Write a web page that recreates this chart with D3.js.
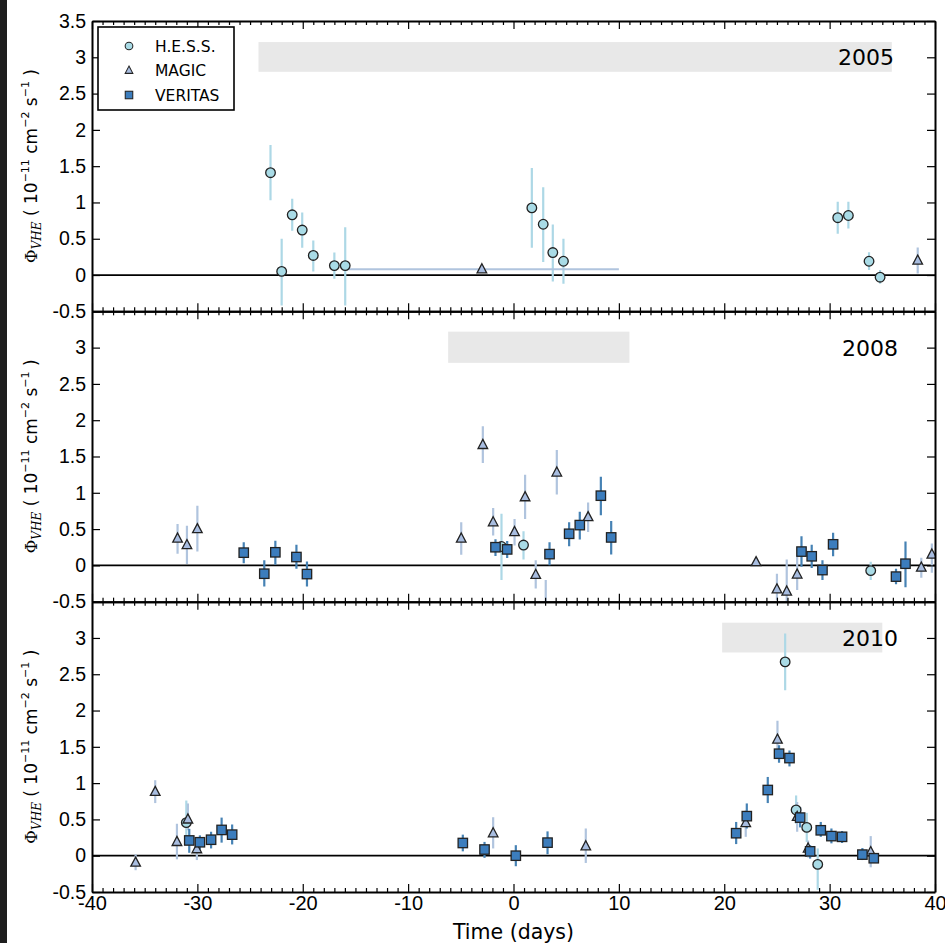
<!DOCTYPE html>
<html>
<head>
<meta charset="utf-8">
<script src="https://cdn.jsdelivr.net/npm/d3@7"></script>
<style>
  body { margin: 0; background: #fff; }
  svg { display: block; font-family: "DejaVu Sans", sans-serif; }
  .domain { stroke: #000; stroke-width: 2; }
  .tick line { stroke: #000; stroke-width: 1.2; }
</style>
</head>
<body>
<div id="chart"></div>
<script>
// data: [time (days), flux, err low, err high]  (flux in 1e-11 cm-2 s-1)
var years = ['2005', '2008', '2010'];

var hess2005 = [
  [-23.06, 1.41, 1.03, 1.79], [-22.0, 0.05, -0.42, 0.50], [-21.0, 0.83, 0.61, 1.05],
  [-20.05, 0.62, 0.375, 0.86], [-19.0, 0.27, 0.05, 0.475], [-17.0, 0.13, -0.05, 0.31],
  [-15.97, 0.13, -0.42, 0.66], [1.74, 0.925, 0.375, 1.475], [2.82, 0.70, 0.18, 1.21],
  [3.73, 0.31, -0.09, 0.695], [4.74, 0.19, -0.12, 0.50], [30.77, 0.79, 0.57, 1.01],
  [31.78, 0.82, 0.64, 1.01], [33.74, 0.19, 0.07, 0.315], [34.79, -0.03, -0.12, 0.07]
];
// last two fields: horizontal extent (time bin)
var magic2005 = [
  [-3.0, 0.08, 0.08, 0.08, -16.0, 10.0], [38.36, 0.20, 0.02, 0.38]
];
var veritas2005 = [];

var hess2008 = [
  [-1.14, 0.26, -0.20, 0.71], [0.95, 0.28, 0.08, 0.47], [33.9, -0.073, -0.20, 0.05]
];
var magic2008 = [
  [-31.88, 0.37, 0.16, 0.57], [-30.99, 0.28, 0.02, 0.545], [-30.0, 0.50, 0.19, 0.82],
  [-4.96, 0.37, 0.147, 0.595], [-2.91, 1.66, 1.41, 1.915], [-1.93, 0.595, 0.41, 0.79],
  [0.1, 0.46, 0.275, 0.64], [1.1, 0.94, 0.64, 1.25], [2.11, -0.13, -0.32, 0.07],
  [3.06, -0.65, -1.0, -0.20], [4.11, 1.28, 0.975, 1.59], [7.08, 0.665, 0.46, 0.865],
  [23.02, 0.045, -0.02, 0.11], [25.0, -0.33, -0.48, -0.115], [25.93, -0.36, -0.6, 0.08],
  [26.92, -0.125, -0.34, 0.115], [38.7, -0.03, -0.17, 0.105], [39.7, 0.15, -0.1, 0.30]
];
var veritas2008 = [
  [-25.6, 0.175, 0.03, 0.32], [-23.65, -0.115, -0.29, 0.07], [-22.6, 0.18, 0.01, 0.34],
  [-20.6, 0.115, -0.045, 0.285], [-19.6, -0.12, -0.29, 0.055], [-1.71, 0.25, 0.13, 0.36],
  [-0.6, 0.22, 0.10, 0.335], [3.42, 0.155, 0.0, 0.32], [5.28, 0.435, 0.265, 0.595],
  [6.29, 0.555, 0.355, 0.74], [8.29, 0.96, 0.69, 1.22], [9.27, 0.385, 0.15, 0.61],
  [27.33, 0.19, -0.02, 0.40], [28.3, 0.125, -0.035, 0.285], [29.32, -0.065, -0.20, 0.07],
  [30.33, 0.29, 0.125, 0.45], [36.3, -0.155, -0.26, -0.045], [37.2, 0.023, -0.30, 0.33]
];

var hess2010 = [
  [-31.05, 0.455, 0.26, 0.76], [25.78, 2.67, 2.28, 3.06], [26.82, 0.63, 0.44, 0.83],
  [27.83, 0.39, 0.19, 0.59], [28.87, -0.12, -0.47, 0.10]
];
var magic2010 = [
  [-35.86, -0.095, -0.20, 0.02], [-34.0, 0.88, 0.725, 1.04], [-31.94, 0.19, -0.05, 0.44],
  [-30.9, 0.50, 0.35, 0.72], [-30.05, 0.09, -0.06, 0.17], [-1.93, 0.31, 0.10, 0.53],
  [6.86, 0.13, -0.10, 0.375], [22.04, 0.45, 0.26, 0.625], [25.05, 1.60, 1.41, 1.86],
  [26.92, 0.535, 0.33, 0.74], [27.96, 0.10, -0.025, 0.21], [33.9, 0.05, -0.16, 0.27]
];
var veritas2010 = [
  [-30.77, 0.21, 0.04, 0.37], [-29.76, 0.185, 0.085, 0.28], [-28.7, 0.22, 0.10, 0.33],
  [-27.7, 0.355, 0.18, 0.525], [-26.7, 0.29, 0.155, 0.43], [-4.81, 0.175, 0.06, 0.29],
  [-2.75, 0.085, -0.03, 0.19], [0.22, 0.0, -0.145, 0.145], [3.23, 0.18, 0.02, 0.335],
  [21.13, 0.31, 0.16, 0.465], [22.14, 0.545, 0.375, 0.72], [24.13, 0.905, 0.725, 1.085],
  [25.2, 1.405, 1.28, 1.52], [26.19, 1.345, 1.23, 1.45], [27.2, 0.525, 0.39, 0.67],
  [28.15, 0.06, -0.04, 0.145], [29.16, 0.35, 0.26, 0.465], [30.17, 0.27, 0.17, 0.375],
  [31.18, 0.26, 0.175, 0.34], [33.11, 0.015, -0.06, 0.105], [34.19, -0.035, -0.10, 0.03]
];

// grey observation band per year: [start, end, low, high]
var bands = [[-24.2, 35.9, 2.8, 3.21], [-6.2, 11.0, 2.79, 3.22], [19.8, 35.0, 2.8, 3.21]];

var xTicks = [-40, -30, -20, -10, 0, 10, 20, 30, 40];
var yTicks = [-0.5, 0, 0.5, 1, 1.5, 2, 2.5, 3, 3.5];

var panelData = [
  {hess: hess2005, magic: magic2005, veritas: veritas2005},
  {hess: hess2008, magic: magic2008, veritas: veritas2008},
  {hess: hess2010, magic: magic2010, veritas: veritas2010}
];

// Constants
const WIDTH = 945;
const HEIGHT = 943;
const LEFT = 92, RIGHT = 935, TOP = 21;
const PANEL_H = 290.33;

const styles = {
  hess:    {fill: '#a9dbe6', err: '#add8e6', shape: 'circle'},
  magic:   {fill: '#a8bde0', err: '#b0c4de', shape: 'triangle'},
  veritas: {fill: '#3c7dbd', err: '#4682b4', shape: 'square'}
};

var svg = d3.select('#chart').append('svg')
            .attr('width', WIDTH)
            .attr('height', HEIGHT);

// dark strip of the screenshot at the left edge
svg.append('rect').attr('x', 0).attr('y', 0).attr('width', 7).attr('height', HEIGHT).attr('fill', '#1e1e1e');

var x = d3.scaleLinear().domain([-40, 40]).range([LEFT, RIGHT]);
var minorX = d3.range(-40, 41, 1).filter(d => d % 10 !== 0);

// draw one marker symbol at 0,0
function marker(g, shape, fill) {
  if (shape === 'circle') {
    g.append('circle').attr('r', 4.8);
  } else if (shape === 'triangle') {
    g.append('path').attr('d', 'M0,-5.5L4.8,3.6L-4.8,3.6Z');
  } else {
    g.append('rect').attr('x', -4.7).attr('y', -4.7).attr('width', 9.4).attr('height', 9.4);
  }
  g.selectAll('*').attr('fill', fill).attr('stroke', '#222').attr('stroke-width', 1.3);
}

panelData.forEach(function (pd, i) {
  var top = TOP + i * PANEL_H;
  var y = d3.scaleLinear().domain([-0.5, 3.5]).range([top + PANEL_H, top]);
  var panel = svg.append('g').classed('panel', true);

  panel.append('clipPath').attr('id', 'clip' + i)
       .append('rect')
       .attr('x', LEFT).attr('y', top)
       .attr('width', RIGHT - LEFT).attr('height', PANEL_H);

  var plot = panel.append('g').attr('clip-path', 'url(#clip' + i + ')');

  // observation band
  var b = bands[i];
  plot.append('rect')
      .attr('x', x(b[0])).attr('width', x(b[1]) - x(b[0]))
      .attr('y', y(b[3])).attr('height', y(b[2]) - y(b[3]))
      .attr('fill', '#e8e8e8');

  // zero line
  plot.append('line')
      .attr('x1', LEFT).attr('x2', RIGHT)
      .attr('y1', y(0)).attr('y2', y(0))
      .attr('stroke', '#000').attr('stroke-width', 1.8);

  // error bars first, then markers
  ['hess', 'magic', 'veritas'].forEach(function (key) {
    var s = styles[key];
    plot.selectAll('line.err-' + key).data(pd[key]).enter()
        .append('line').classed('err-' + key, true)
        .attr('x1', d => x(d[0])).attr('x2', d => x(d[0]))
        .attr('y1', d => y(d[2])).attr('y2', d => y(d[3]))
        .attr('stroke', s.err).attr('stroke-width', 2.2);
    plot.selectAll('line.xerr-' + key).data(pd[key].filter(d => d.length > 4)).enter()
        .append('line').classed('xerr-' + key, true)
        .attr('x1', d => x(d[4])).attr('x2', d => x(d[5]))
        .attr('y1', d => y(d[1])).attr('y2', d => y(d[1]))
        .attr('stroke', s.err).attr('stroke-width', 2.2);
  });
  ['hess', 'magic', 'veritas'].forEach(function (key) {
    var s = styles[key];
    plot.selectAll('g.pt-' + key).data(pd[key]).enter()
        .append('g').classed('pt-' + key, true)
        .attr('transform', d => 'translate(' + x(d[0]) + ',' + y(d[1]) + ')')
        .each(function () { marker(d3.select(this), s.shape, s.fill); });
  });

  // year label
  panel.append('text')
       .attr('x', i === 0 ? 894 : 898).attr('y', y(3) + 8)
       .attr('text-anchor', 'end')
       .attr('font-size', 22)
       .text(years[i]);

  // axes, ticks point inward
  var yt = i === 0 ? yTicks : yTicks.slice(0, -1);
  panel.append('g').attr('transform', 'translate(' + LEFT + ',0)')
       .call(d3.axisLeft(y).tickValues(yt).tickSize(-8).tickSizeOuter(0).tickPadding(6).tickFormat(d => String(d)))
       .call(g => g.selectAll('text').attr('font-size', 19.5).attr('fill', '#000'));
  panel.append('g').attr('transform', 'translate(' + RIGHT + ',0)')
       .call(d3.axisRight(y).tickValues(yTicks).tickSize(-8).tickSizeOuter(0).tickFormat(''));

  panel.append('g').attr('transform', 'translate(0,' + top + ')')
       .call(d3.axisTop(x).tickValues(xTicks).tickSize(-8).tickSizeOuter(0).tickFormat(''));
  panel.append('g').attr('transform', 'translate(0,' + top + ')')
       .call(d3.axisTop(x).tickValues(minorX).tickSize(-4).tickSizeOuter(0).tickFormat(''))
       .call(g => g.select('.domain').remove());

  var bottom = panel.append('g').attr('transform', 'translate(0,' + (top + PANEL_H) + ')')
       .call(d3.axisBottom(x).tickValues(xTicks).tickSize(-8).tickSizeOuter(0).tickPadding(4)
               .tickFormat(i === 2 ? (d => String(d)) : ''));
  bottom.selectAll('text').attr('font-size', 20).attr('fill', '#000');
  panel.append('g').attr('transform', 'translate(0,' + (top + PANEL_H) + ')')
       .call(d3.axisBottom(x).tickValues(minorX).tickSize(-4).tickSizeOuter(0).tickFormat(''))
       .call(g => g.select('.domain').remove());

  // y axis label
  var lab = panel.append('text')
       .attr('transform', 'translate(37,' + (top + PANEL_H / 2) + ') rotate(-90)')
       .attr('text-anchor', 'middle')
       .attr('font-size', 17);
  lab.append('tspan').attr('font-family', 'DejaVu Serif').text('Φ');
  lab.append('tspan').attr('font-family', 'DejaVu Serif').attr('font-style', 'italic')
     .attr('font-size', 12).attr('dy', 4).text('VHE');
  lab.append('tspan').attr('dy', -4).text(' ( 10');
  lab.append('tspan').attr('font-size', 11).attr('dy', -8).text('−11');
  lab.append('tspan').attr('dy', 8).text(' cm');
  lab.append('tspan').attr('font-size', 11).attr('dy', -8).text('−2');
  lab.append('tspan').attr('dy', 8).text(' s');
  lab.append('tspan').attr('font-size', 11).attr('dy', -8).text('−1');
  lab.append('tspan').attr('dy', 8).text(' )');
});

// x axis title
svg.append('text')
   .attr('x', x(0)).attr('y', 939)
   .attr('text-anchor', 'middle')
   .attr('font-size', 20.5)
   .text('Time (days)');

// legend
var legendItems = [['H.E.S.S.', 'hess'], ['MAGIC', 'magic'], ['VERITAS', 'veritas']];
var legend = svg.append('g').classed('legend', true);
legend.append('rect')
      .attr('x', 98).attr('y', 27).attr('width', 136).attr('height', 83)
      .attr('fill', '#fff').attr('stroke', '#000').attr('stroke-width', 1.6);
var items = legend.selectAll('g.item').data(legendItems).enter()
                  .append('g').classed('item', true)
                  .attr('transform', (d, k) => 'translate(0,' + (46 + k * 24.5) + ')');
items.append('g').attr('transform', 'translate(129,0) scale(0.8)')
     .each(function (d) { marker(d3.select(this), styles[d[1]].shape, styles[d[1]].fill); });
items.append('text')
     .attr('x', 155).attr('y', 5.5)
     .attr('font-size', 15.5)
     .text(d => d[0]);
</script>
</body>
</html>
